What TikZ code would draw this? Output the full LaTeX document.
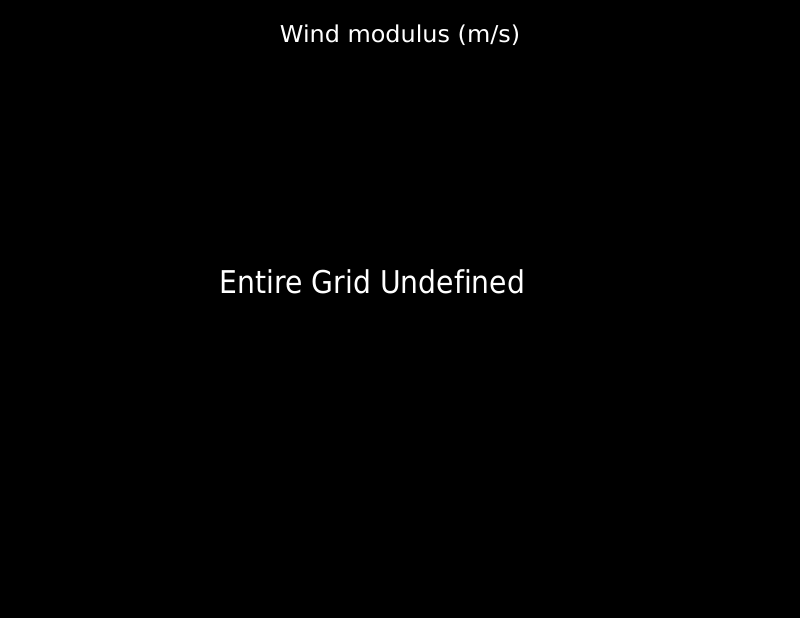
\documentclass[tikz,border=0pt]{standalone}
\usepackage{fontspec}
\setmainfont[Ligatures=NoCommon]{DejaVu Sans}
\usepackage{tikz}

\begin{document}
\begin{tikzpicture}[x=1bp,y=-1bp,
    label text/.style={text=white, inner sep=0pt, anchor=base}]
    % background
    \fill[black] (0,0) rectangle (800,618);
    \useasboundingbox (0,0) rectangle (800,618);
    % title and message
    \node[label text, xscale=1.03, font=\fontsize{23.3}{28}\selectfont] (title) at (400,43) {Wind modulus (m/s)};
    \node[label text, xscale=0.9, font=\fontsize{31.5}{38}\selectfont] (msg) at (372.5,293) {Entire Grid Undefined};
\end{tikzpicture}
\end{document}
